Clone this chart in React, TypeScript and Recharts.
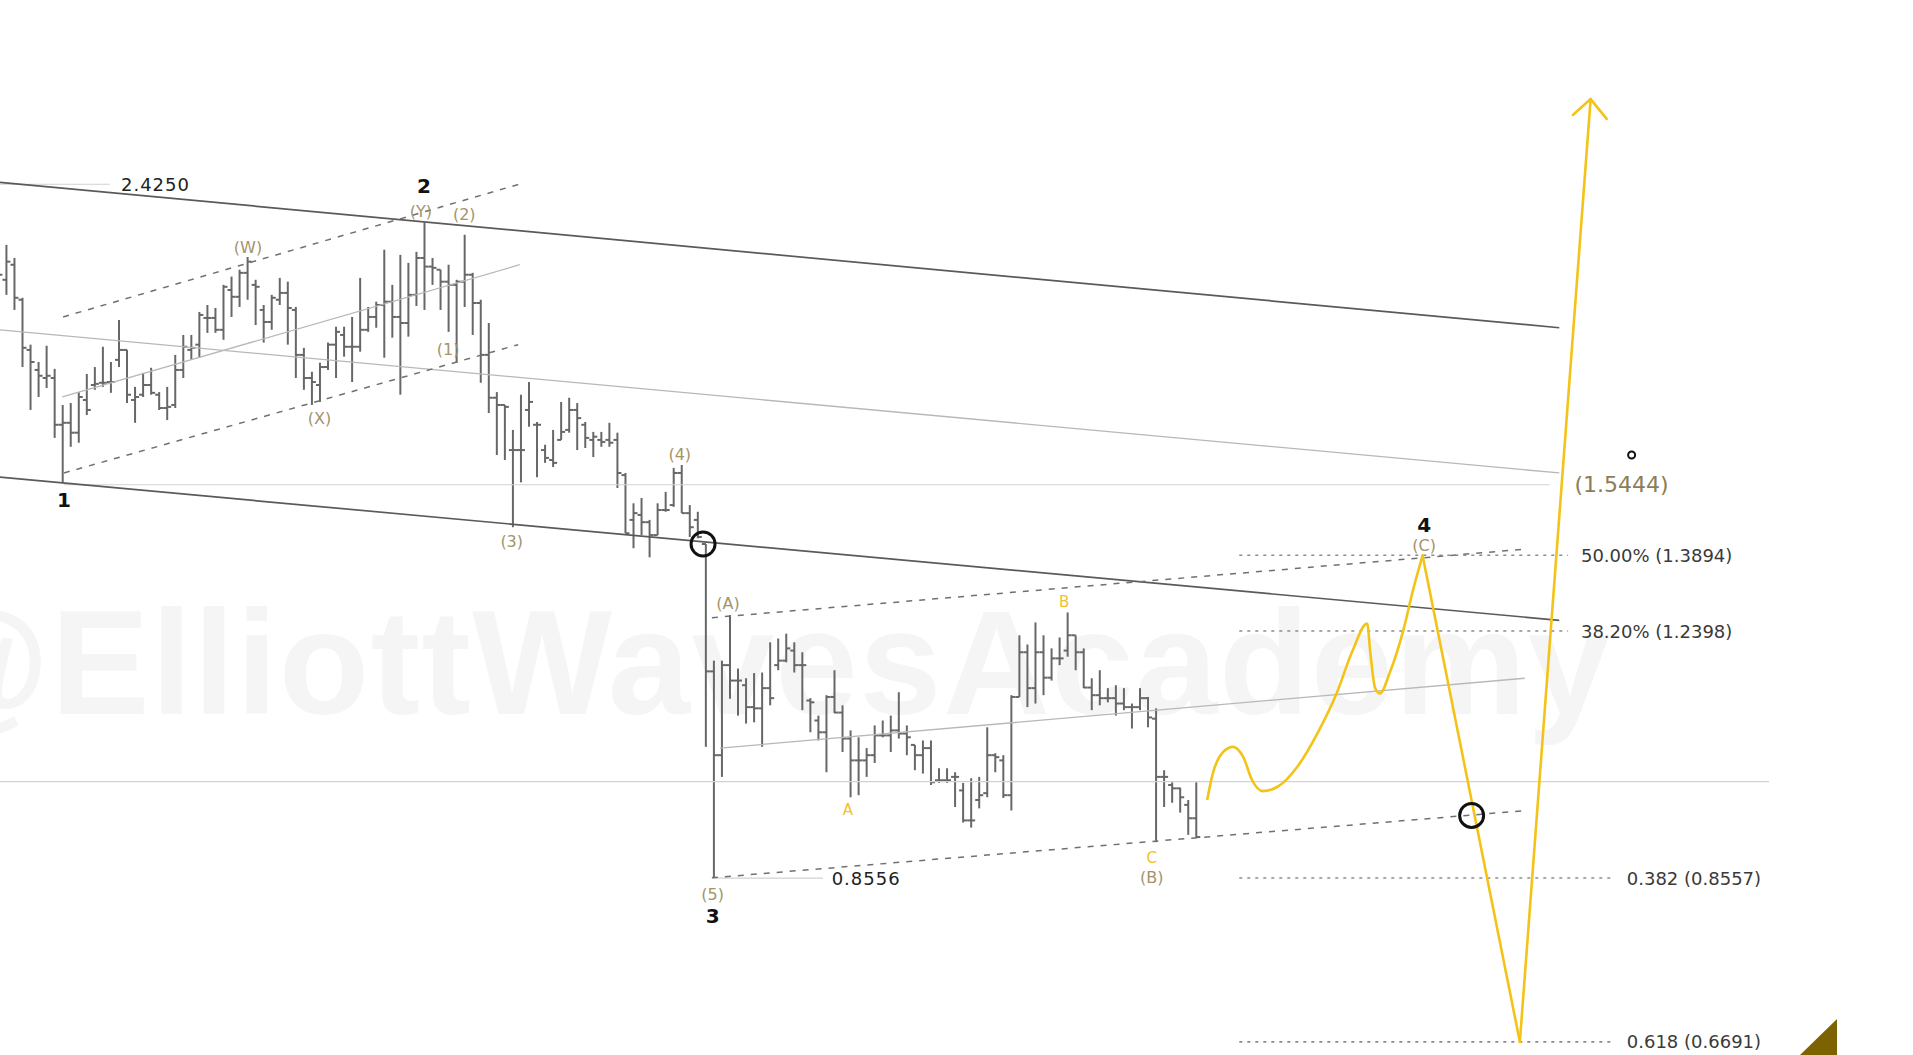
import {
  ComposedChart,
  XAxis,
  YAxis,
  Bar,
  Line,
  ReferenceLine,
  ReferenceDot,
} from 'recharts';

const W = 1913;
const H = 1055;
const FONT = '"DejaVu Sans", Verdana, sans-serif';

// time axis is bar index, price axis is log
const T_DOMAIN = [0.25, 238.2];
const P_DOMAIN = [0.656, 3.198];

// [high, low, open, close]
const BARS: [number, number, number, number][] = [
  [2.175, 2.039, 2.085, 2.117], [2.214, 2.054, 2.101, 2.159], [2.171, 2.008, 2.149, 2.045],
  [2.045, 1.843, 2.039, 1.897], [1.906, 1.728, 1.891, 1.857], [1.857, 1.762, 1.835, 1.819],
  [1.903, 1.786, 1.813, 1.819], [1.838, 1.657, 1.813, 1.69], [1.741, 1.548, 1.69, 1.695],
  [1.746, 1.635, 1.695, 1.67], [1.775, 1.645, 1.67, 1.762], [1.824, 1.715, 1.754, 1.728],
  [1.843, 1.781, 1.794, 1.797], [1.9, 1.789, 1.8, 1.8], [1.857, 1.773, 1.802, 1.802],
  [1.978, 1.843, 1.863, 1.891], [1.891, 1.746, 1.891, 1.768], [1.789, 1.695, 1.754, 1.762],
  [1.827, 1.762, 1.768, 1.794], [1.841, 1.768, 1.794, 1.773], [1.775, 1.728, 1.768, 1.733],
  [1.789, 1.702, 1.733, 1.736], [1.877, 1.733, 1.741, 1.835], [1.934, 1.813, 1.835, 1.9],
  [1.934, 1.863, 1.891, 1.897], [2.002, 1.869, 1.906, 1.993], [2.023, 1.94, 1.984, 1.984],
  [2.014, 1.94, 1.984, 1.949], [2.085, 1.92, 1.949, 2.079], [2.111, 1.987, 2.069, 2.048],
  [2.133, 2.017, 2.048, 2.123], [2.174, 2.039, 2.123, 2.159], [2.101, 1.963, 2.085, 2.079],
  [2.023, 1.912, 2.008, 1.972], [2.054, 1.949, 1.972, 2.045], [2.107, 2.023, 2.039, 2.06],
  [2.095, 1.906, 2.06, 2.014], [2.017, 1.813, 2.008, 1.877], [1.897, 1.781, 1.877, 1.813],
  [1.83, 1.741, 1.813, 1.802], [1.855, 1.749, 1.794, 1.843], [1.912, 1.835, 1.843, 1.906],
  [1.958, 1.813, 1.906, 1.943], [1.958, 1.872, 1.934, 1.9], [1.987, 1.802, 1.9, 1.9],
  [2.107, 1.886, 1.9, 1.949], [2.017, 1.943, 1.949, 1.987], [2.033, 1.955, 1.987, 2.023],
  [2.198, 1.869, 2.023, 2.033], [2.085, 1.926, 2.033, 1.987], [2.181, 1.768, 1.987, 1.969],
  [2.155, 1.929, 1.969, 2.054], [2.191, 2.02, 2.054, 2.171], [2.289, 2.008, 2.171, 2.143],
  [2.171, 2.085, 2.143, 2.139], [2.133, 2.008, 2.133, 2.095], [2.149, 1.943, 2.095, 2.085],
  [2.101, 1.855, 2.085, 2.095], [2.248, 2.017, 2.095, 2.117], [2.123, 1.934, 2.117, 2.029],
  [2.039, 1.8, 2.029, 1.877], [1.969, 1.72, 1.877, 1.76], [1.775, 1.615, 1.76, 1.741],
  [1.741, 1.603, 1.741, 1.736], [1.677, 1.449, 1.627, 1.627], [1.768, 1.55, 1.627, 1.627],
  [1.802, 1.685, 1.728, 1.749], [1.697, 1.562, 1.69, 1.69], [1.64, 1.596, 1.627, 1.608],
  [1.677, 1.586, 1.603, 1.596], [1.749, 1.652, 1.652, 1.672], [1.76, 1.67, 1.677, 1.728],
  [1.746, 1.627, 1.728, 1.707], [1.697, 1.632, 1.69, 1.657], [1.672, 1.61, 1.652, 1.66],
  [1.672, 1.635, 1.652, 1.647], [1.695, 1.635, 1.652, 1.645], [1.67, 1.537, 1.652, 1.572],
  [1.572, 1.436, 1.567, 1.436], [1.502, 1.404, 1.465, 1.48], [1.514, 1.432, 1.476, 1.46],
  [1.465, 1.385, 1.46, 1.432], [1.502, 1.432, 1.432, 1.487], [1.528, 1.483, 1.487, 1.487],
  [1.584, 1.494, 1.498, 1.572], [1.591, 1.48, 1.572, 1.48], [1.498, 1.428, 1.48, 1.449],
  [1.483, 1.425, 1.465, 1.428], [1.413, 1.042, 1.413, 1.167], [1.186, 0.856, 1.167, 1.029],
  [1.186, 0.996, 1.029, 1.178], [1.27, 1.12, 1.178, 1.151], [1.172, 1.092, 1.151, 1.151],
  [1.155, 1.079, 1.143, 1.106], [1.164, 1.081, 1.106, 1.104], [1.165, 1.042, 1.104, 1.138],
  [1.219, 1.109, 1.138, 1.121], [1.226, 1.169, 1.178, 1.186], [1.235, 1.183, 1.186, 1.208],
  [1.219, 1.165, 1.204, 1.178], [1.201, 1.101, 1.178, 1.178], [1.121, 1.065, 1.117, 1.114],
  [1.092, 1.052, 1.084, 1.065], [1.126, 1.003, 1.065, 1.123], [1.169, 1.096, 1.123, 1.097],
  [1.109, 1.034, 1.097, 1.055], [1.068, 0.966, 1.055, 1.021], [1.057, 0.969, 1.021, 1.021],
  [1.04, 0.996, 1.021, 1.029], [1.076, 1.017, 1.029, 1.06], [1.084, 1.057, 1.06, 1.06],
  [1.092, 1.034, 1.06, 1.068], [1.131, 1.055, 1.068, 1.063], [1.076, 1.029, 1.063, 1.057],
  [1.045, 1.006, 1.045, 1.029], [1.052, 1.001, 1.029, 1.04], [1.052, 0.984, 1.04, 0.988],
  [1.009, 0.987, 0.991, 0.991], [1.009, 0.987, 0.991, 0.991], [1.003, 0.952, 0.996, 0.996],
  [0.987, 0.93, 0.976, 0.933], [0.994, 0.923, 0.933, 0.933], [0.996, 0.95, 0.962, 0.969],
  [1.073, 0.966, 0.972, 1.029], [1.032, 1.003, 1.029, 1.026], [1.029, 0.965, 1.021, 0.969],
  [1.126, 0.947, 0.969, 1.123], [1.232, 1.123, 1.123, 1.201], [1.215, 1.106, 1.201, 1.138],
  [1.256, 1.112, 1.138, 1.201], [1.232, 1.126, 1.201, 1.156], [1.208, 1.151, 1.156, 1.19],
  [1.228, 1.178, 1.19, 1.19], [1.275, 1.193, 1.204, 1.232], [1.232, 1.169, 1.232, 1.201],
  [1.208, 1.138, 1.201, 1.139], [1.155, 1.101, 1.139, 1.126], [1.169, 1.109, 1.126, 1.121],
  [1.138, 1.114, 1.121, 1.121], [1.143, 1.092, 1.121, 1.112], [1.138, 1.101, 1.112, 1.106],
  [1.112, 1.071, 1.106, 1.106], [1.138, 1.101, 1.106, 1.121], [1.123, 1.073, 1.121, 1.089],
  [1.104, 0.903, 1.087, 0.996], [1.006, 0.952, 0.996, 0.996], [0.988, 0.958, 0.984, 0.979],
  [0.98, 0.944, 0.979, 0.966], [0.962, 0.913, 0.955, 0.936], [0.988, 0.91, 0.936, 0.91],
];

// [t1, p1, t2, p2]
const CHANNEL_LINES = [
  [0.25, 2.432, 194.2, 1.955],
  [0.25, 1.562, 194.2, 1.26],
];
const THIN_LINES = [
  [0.25, 1.949, 194.2, 1.572],
  [8.0, 1.762, 64.9, 2.149],
  [89.8, 1.04, 189.9, 1.155],
];
const LEVEL_LINES = [
  [8.2, 1.5444, 193.0, 1.5444],
  [0.25, 0.989, 220.3, 0.989],
  [0.25, 2.425, 13.9, 2.425],
  [88.9, 0.8556, 102.6, 0.8556],
];
const DASHED_LINES = [
  [8.1, 1.987, 64.8, 2.425],
  [8.2, 1.572, 64.7, 1.906],
  [88.8, 1.265, 189.9, 1.402],
  [88.8, 0.856, 190.2, 0.947],
];

const FIB_START = 154.4;
const FIB_LEVELS = [
  { label: '50.00% (1.3894)', price: 1.3894, end: 195.3 },
  { label: '38.20% (1.2398)', price: 1.2398, end: 195.3 },
  { label: '0.382 (0.8557)', price: 0.8557, end: 201.0 },
  { label: '0.618 (0.6691)', price: 0.6691, end: 201.0 },
];

// projected path: wavy part, then straight legs and arrow head
const PATH_CURVE = [
  { t: 150.4, p: 0.962 }, { t: 151.1, p: 1.001 }, { t: 152.4, p: 1.034 },
  { t: 153.6, p: 1.042 }, { t: 154.9, p: 1.026 }, { t: 156.0, p: 0.991 },
  { t: 157.3, p: 0.975 }, { t: 159.1, p: 0.981 }, { t: 161.6, p: 1.011 },
  { t: 164.1, p: 1.063 }, { t: 166.5, p: 1.129 }, { t: 168.5, p: 1.204 },
  { t: 170.3, p: 1.254 }, { t: 170.7, p: 1.2 }, { t: 171.3, p: 1.138 },
  { t: 171.9, p: 1.129 }, { t: 173.1, p: 1.164 }, { t: 174.8, p: 1.241 },
  { t: 176.0, p: 1.318 }, { t: 177.2, p: 1.389 },
];
const PATH_LEGS = [
  [177.2, 1.389, 189.3, 0.6691],
  [189.3, 0.6691, 198.1, 2.756],
  [195.9, 2.691, 198.1, 2.756],
  [198.1, 2.756, 200.1, 2.675],
];

const CIRCLES = [
  { t: 87.7, p: 1.413, r: 12, w: 3 },
  { t: 183.3, p: 0.94, r: 12, w: 3 },
  { t: 203.2, p: 1.615, r: 3.5, w: 2 },
];

const LABELS = [
  { t: 15.3, p: 2.425, text: '2.4250', kind: 'price' },
  { t: 103.7, p: 0.8556, text: '0.8556', kind: 'price' },
  { t: 8.2, p: 1.509, text: '1', kind: 'wave' },
  { t: 53.0, p: 2.418, text: '2', kind: 'wave' },
  { t: 88.9, p: 0.808, text: '3', kind: 'wave' },
  { t: 177.4, p: 1.454, text: '4', kind: 'wave' },
  { t: 31.1, p: 2.207, text: '(W)', kind: 'minor' },
  { t: 52.6, p: 2.327, text: '(Y)', kind: 'minor' },
  { t: 58.0, p: 2.316, text: '(2)', kind: 'minor' },
  { t: 40.0, p: 1.707, text: '(X)', kind: 'minor' },
  { t: 56.0, p: 1.891, text: '(1)', kind: 'minor' },
  { t: 63.9, p: 1.419, text: '(3)', kind: 'minor' },
  { t: 84.8, p: 1.615, text: '(4)', kind: 'minor' },
  { t: 90.8, p: 1.293, text: '(A)', kind: 'minor' },
  { t: 88.9, p: 0.835, text: '(5)', kind: 'minor' },
  { t: 143.5, p: 0.856, text: '(B)', kind: 'minor' },
  { t: 177.4, p: 1.409, text: '(C)', kind: 'minor' },
  { t: 105.7, p: 0.947, text: 'A', kind: 'abc' },
  { t: 132.6, p: 1.295, text: 'B', kind: 'abc' },
  { t: 143.5, p: 0.882, text: 'C', kind: 'abc' },
  { t: 196.1, p: 1.5444, text: '(1.5444)', kind: 'target' },
];

const LABEL_STYLE: Record<string, any> = {
  price: { fill: '#222', fontSize: 18, letterSpacing: 1, textAnchor: 'start' },
  wave: { fill: '#111', fontSize: 20, fontWeight: 'bold', textAnchor: 'middle' },
  minor: { fill: '#a3946a', fontSize: 16, textAnchor: 'middle' },
  abc: { fill: '#f2c12e', fontSize: 15, textAnchor: 'middle' },
  target: { fill: '#8b7d55', fontSize: 22, textAnchor: 'start' },
  fib: { fill: '#3a3a3a', fontSize: 18, textAnchor: 'start' },
};

const YELLOW = '#f3c318';

const chartData = BARS.map(([high, low, open, close], t) => ({
  t,
  high,
  low,
  open,
  close,
  range: [low, high],
}));

function OhlcBar(props: any) {
  const { x, y, width, height, payload } = props;
  if (!payload || x == null) return null;
  const top = Math.min(y, y + height);
  const bottom = Math.max(y, y + height);
  const cx = x + width / 2;
  const lh = Math.log(payload.high);
  const ll = Math.log(payload.low);
  const at = (v: number) => top + ((bottom - top) * (lh - Math.log(v))) / (lh - ll || 1);
  const yo = at(payload.open);
  const yc = at(payload.close);
  return (
    <g stroke="#676767" strokeWidth={2}>
      <line x1={cx} x2={cx} y1={top} y2={bottom} />
      <line x1={cx - 4} x2={cx} y1={yo} y2={yo} />
      <line x1={cx} x2={cx + 4} y1={yc} y2={yc} />
    </g>
  );
}

function textShape(text: string, kind: string) {
  const st = LABEL_STYLE[kind];
  return (p: any) => (
    <text x={p.cx} y={p.cy} dominantBaseline="central" fontFamily={FONT} {...st}>
      {text}
    </text>
  );
}

function segment(s: number[]) {
  return [
    { x: s[0], y: s[1] },
    { x: s[2], y: s[3] },
  ];
}

export default function App() {
  return (
    <div style={{ position: 'absolute', left: 0, top: 0, width: W, height: H, background: '#fff', overflow: 'hidden' }}>
      <svg width={W} height={H} style={{ position: 'absolute', left: 0, top: 0 }}>
        <text
          x={-95}
          y={714}
          fontFamily='"Liberation Sans", Arial, sans-serif'
          fontWeight="bold"
          fontSize={148}
          textLength={1705}
          lengthAdjust="spacing"
          fill="#f5f5f5"
        >
          @ElliottWavesAcademy
        </text>
        <polygon points="1800,1055 1837,1019 1837,1055" fill="#7d6200" />
      </svg>
      <div style={{ position: 'absolute', left: 0, top: 0 }}>
        <ComposedChart width={W} height={H} data={chartData} margin={{ top: 0, right: 0, bottom: 0, left: 0 }}>
          <XAxis dataKey="t" type="number" domain={T_DOMAIN} allowDataOverflow hide />
          <YAxis type="number" scale="log" domain={P_DOMAIN} allowDataOverflow hide />

          {LEVEL_LINES.map((s, i) => (
            <ReferenceLine key={`lv-${i}`} segment={segment(s)} stroke="#d2d2d2" strokeWidth={1.2} ifOverflow="visible" />
          ))}
          {THIN_LINES.map((s, i) => (
            <ReferenceLine key={`th-${i}`} segment={segment(s)} stroke="#b8b8b8" strokeWidth={1.3} ifOverflow="visible" />
          ))}
          {CHANNEL_LINES.map((s, i) => (
            <ReferenceLine key={`ch-${i}`} segment={segment(s)} stroke="#5a5a5a" strokeWidth={1.7} ifOverflow="visible" />
          ))}
          {DASHED_LINES.map((s, i) => (
            <ReferenceLine key={`da-${i}`} segment={segment(s)} stroke="#707070" strokeWidth={1.5} strokeDasharray="6 7" ifOverflow="visible" />
          ))}
          {FIB_LEVELS.map((f, i) => (
            <ReferenceLine
              key={`fib-${i}`}
              segment={[{ x: FIB_START, y: f.price }, { x: f.end, y: f.price }]}
              stroke="#8c8c8c"
              strokeWidth={1.6}
              strokeDasharray="3 5"
              ifOverflow="visible"
            />
          ))}

          <Bar dataKey="range" barSize={2} shape={OhlcBar} isAnimationActive={false} />

          <Line
            data={PATH_CURVE}
            dataKey="p"
            type="monotone"
            stroke={YELLOW}
            strokeWidth={2.6}
            dot={false}
            activeDot={false}
            isAnimationActive={false}
          />
          {PATH_LEGS.map((s, i) => (
            <ReferenceLine
              key={`leg-${i}`}
              segment={segment(s)}
              stroke={YELLOW}
              strokeWidth={2.6}
              strokeLinecap="round"
              ifOverflow="visible"
            />
          ))}

          {CIRCLES.map((c, i) => (
            <ReferenceDot
              key={`c-${i}`}
              x={c.t}
              y={c.p}
              r={c.r}
              fill="none"
              stroke="#111"
              strokeWidth={c.w}
              ifOverflow="visible"
            />
          ))}
          {LABELS.map((l, i) => (
            <ReferenceDot key={`l-${i}`} x={l.t} y={l.p} r={1} ifOverflow="visible" shape={textShape(l.text, l.kind)} />
          ))}
          {FIB_LEVELS.map((f, i) => (
            <ReferenceDot key={`fl-${i}`} x={f.end + 1.6} y={f.price} r={1} ifOverflow="visible" shape={textShape(f.label, 'fib')} />
          ))}
        </ComposedChart>
      </div>
    </div>
  );
}
